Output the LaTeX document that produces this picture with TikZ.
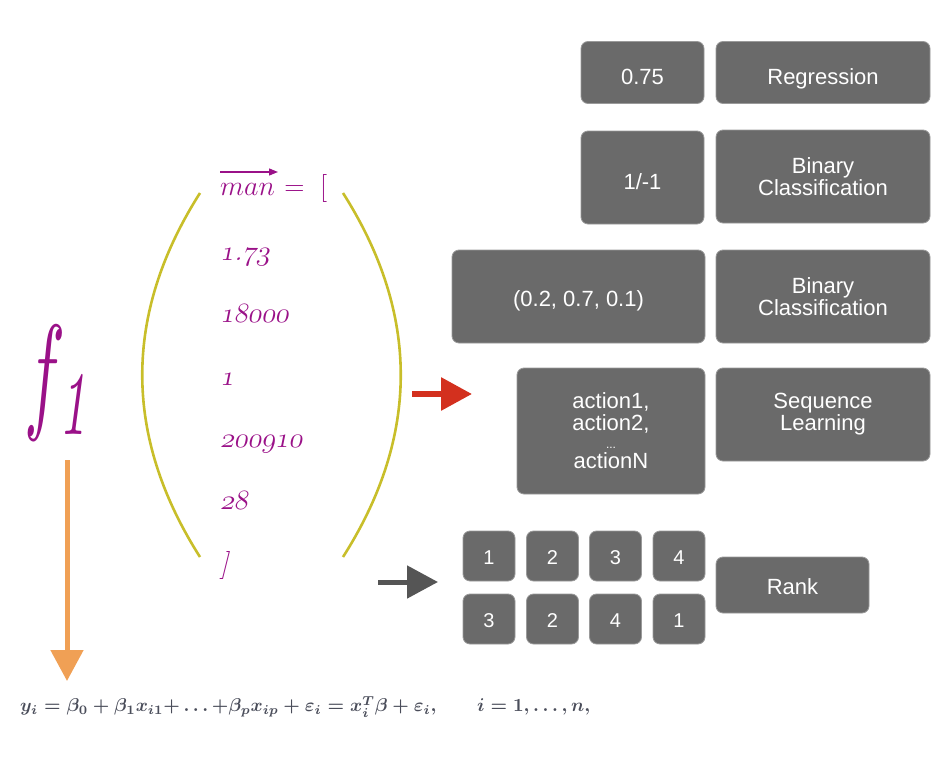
\RequirePackage{fix-cm}
\documentclass[tikz,border=0pt]{standalone}
\usepackage{fontspec}
\usepackage{graphicx}
\usetikzlibrary{arrows.meta}
\newfontfamily\boxfont{Liberation Sans}
\newcommand\osn[1]{{\fontsize{28}{28}\usefont{OML}{cmm}{m}{it}#1}}
\definecolor{boxgray}{HTML}{6A6A6A}
\definecolor{boxedge}{HTML}{9A9A9A}
\definecolor{purp}{HTML}{9A1188}
\definecolor{paren}{HTML}{C8BE2A}
\definecolor{orangearr}{HTML}{F0A055}
\definecolor{redarr}{HTML}{D3301E}
\definecolor{grayarr}{HTML}{555555}
\definecolor{eqgray}{HTML}{4A4D5A}
\tikzset{
  box/.style={fill=boxgray, draw=boxedge, line width=0.8pt, rounded corners=7pt,
    text=white, align=center, font=\boxfont\fontsize{22}{22}\selectfont, inner sep=0pt},
  tb/.style={text height=#1, text depth=0pt},
  small/.style={font=\boxfont\fontsize{20}{20}\selectfont},
  purptext/.style={text=purp, anchor=base west, inner sep=0pt, font=\fontsize{28}{28}\selectfont\itshape},
  slanted/.style={xslant=0.2, transform shape},
  parenline/.style={draw=paren, line width=2.6pt},
  bigarrow/.style={line width=5pt, -{Triangle[length=31pt,width=32pt]}}
}
\begin{document}
\begin{tikzpicture}[x=1pt,y=-1pt]
\useasboundingbox (0,0) rectangle (951,760);

% f_1
\node[text=purp, inner sep=0pt] (f) at (58,383) {\resizebox*{66pt}{115pt}{$f_{\mathit{1}}$}};

% parentheses
\coordinate (lt) at (200,193); \coordinate (lb) at (200,557);
\coordinate (rt) at (343,193); \coordinate (rb) at (343,557);
\draw[parenline] (lt) .. controls (123,314) and (123,436) .. (lb);
\draw[parenline] (rt) .. controls (420,314) and (420,436) .. (rb);

% vector contents
\node[purptext] (vm) at (220,195) {$man$};
\node[purptext, anchor=base west] (veq) at ([xshift=9pt]vm.base east) {$=\;[$};
\coordinate (av1) at (220,172); \coordinate (av2) at (278,172);
\draw[purp, line width=1.3pt, -{Triangle[length=9pt,width=7pt]}] (av1) -- (av2);
\begin{scope}[shift={(220,260)}]
  \node[purptext, slanted] (v1) at (0,0) {\osn{1}.\osn{73}};
\end{scope}
\begin{scope}[shift={(220,322)}]
  \node[purptext, slanted] (v2) at (0,0) {\osn{18000}};
\end{scope}
\begin{scope}[shift={(220,385)}]
  \node[purptext, slanted] (v3) at (0,0) {\osn{1}};
\end{scope}
\begin{scope}[shift={(220,447)}]
  \node[purptext, slanted] (v4) at (0,0) {\osn{200910}};
\end{scope}
\begin{scope}[shift={(220,509)}]
  \node[purptext, slanted] (v5) at (0,0) {\osn{28}};
\end{scope}
\node[purptext] (v6) at (220,572) {]};

% arrows
\coordinate (oa) at (67,460); \coordinate (ob) at (67,681);
\draw[bigarrow, draw=orangearr, fill=orangearr] (oa) -- (ob);
\coordinate (ra) at (412,394); \coordinate (rb2) at (472,394);
\draw[bigarrow, draw=redarr, fill=redarr, line width=6pt] (ra) -- (rb2);
\coordinate (ga) at (378,582); \coordinate (gb) at (438,582);
\draw[bigarrow, draw=grayarr, fill=grayarr] (ga) -- (gb);

% output boxes
\node[box, tb=24pt, minimum width=123, minimum height=62] (o1) at (642.5,72.5) {0.75};
\node[box, tb=24pt, minimum width=214, minimum height=62] (t1) at (823,72.5) {Regression};
\node[box, tb=23pt, minimum width=123, minimum height=93] (o2) at (642.5,177.5) {1/-1};
\node[box, minimum width=214, minimum height=93] (t2) at (823,176.5) {Binary\\Classification};
\node[box, tb=20pt, minimum width=253, minimum height=93] (o3) at (578.5,296.5) {(0.2, 0.7, 0.1)};
\node[box, minimum width=214, minimum height=93] (t3) at (823,296.5) {Binary\\Classification};
\node[box, minimum width=188, minimum height=126] (o4) at (611,431) {action1,\\action2,\\[-4pt]{\fontsize{12}{12}\selectfont ...}\\[-2pt]actionN};
\node[box, minimum width=214, minimum height=93] (t4) at (823,414.5) {Sequence\\Learning};

% rank boxes
\node[box, small, tb=16pt, minimum width=52, minimum height=50] (a1) at (489,556) {1};
\node[box, small, tb=16pt, minimum width=52, minimum height=50] (a2) at (552.5,556) {2};
\node[box, small, tb=16pt, minimum width=52, minimum height=50] (a3) at (615.5,556) {3};
\node[box, small, tb=16pt, minimum width=52, minimum height=50] (a4) at (679,556) {4};
\node[box, small, tb=16pt, minimum width=52, minimum height=50] (b1) at (489,619) {3};
\node[box, small, tb=16pt, minimum width=52, minimum height=50] (b2) at (552.5,619) {2};
\node[box, small, tb=16pt, minimum width=52, minimum height=50] (b3) at (615.5,619) {4};
\node[box, small, tb=16pt, minimum width=52, minimum height=50] (b4) at (679,619) {1};
\node[box, tb=18pt, minimum width=153, minimum height=56] (t5) at (792.5,585) {Rank};

% equation
\node[anchor=west, inner sep=0pt, text=eqgray] (eq) at (20,707)
  {\resizebox{570pt}{!}{\boldmath$y_i=\beta_0+\beta_1x_{i1}{+}\dots{+}\beta_px_{ip}+\varepsilon_i=x_i^T\beta+\varepsilon_i,\qquad i=1,\dots,n,$}};
\end{tikzpicture}
\end{document}
